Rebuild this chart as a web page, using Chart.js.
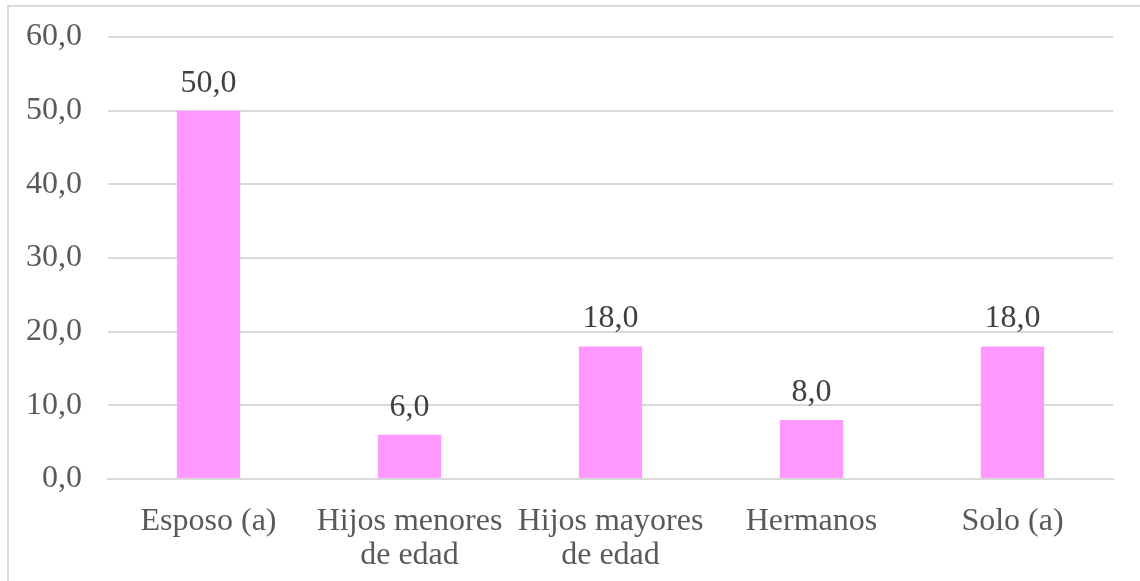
<!DOCTYPE html>
<html>
<head>
<meta charset="utf-8">
<script src="https://cdn.jsdelivr.net/npm/chart.js@4"></script>
<style>
  html, body { margin: 0; padding: 0; background: #fff; }
  #wrap { width: 1140px; height: 581px; position: relative; }
</style>
</head>
<body>
<div id="wrap"><canvas id="chart" width="1140" height="581"></canvas></div>
<script>
// Datos
const categorias = [
    'Esposo (a)',
    ['Hijos menores', 'de edad'],
    ['Hijos mayores', 'de edad'],
    'Hermanos',
    'Solo (a)'
];
const valores = [50.0, 6.0, 18.0, 8.0, 18.0];
const ticksY = [0, 10, 20, 30, 40, 50, 60];

const FUENTE = '"Liberation Serif", "Times New Roman", serif';
const GRIS = '#595959';

const fmt = v => v.toFixed(1).replace('.', ',');

// Borde del gráfico (solo arriba e izquierda visibles)
const bordePlugin = {
    id: 'borde',
    beforeDraw(chart) {
        const ctx = chart.ctx;
        ctx.save();
        ctx.fillStyle = '#fff';
        ctx.fillRect(0, 0, chart.width, chart.height);
        ctx.strokeStyle = '#d9d9d9';
        ctx.lineWidth = 2;
        ctx.beginPath();
        ctx.moveTo(8, 600);
        ctx.lineTo(8, 6);
        ctx.lineTo(1160, 6);
        ctx.stroke();
        ctx.restore();
    }
};

// Etiquetas de datos encima de las barras
const etiquetasPlugin = {
    id: 'etiquetas',
    afterDatasetsDraw(chart) {
        const ctx = chart.ctx;
        const meta = chart.getDatasetMeta(0);
        ctx.save();
        ctx.font = '32px ' + FUENTE;
        ctx.fillStyle = '#404040';
        ctx.textAlign = 'center';
        ctx.textBaseline = 'alphabetic';
        meta.data.forEach((bar, i) => {
            ctx.fillText(fmt(valores[i]), bar.x, bar.y - 19);
        });
        ctx.restore();
    }
};

new Chart(document.getElementById('chart'), {
    type: 'bar',
    data: {
        labels: categorias,
        datasets: [{
            data: valores,
            backgroundColor: '#FF99FF',
            borderWidth: 0,
            barPercentage: 0.63,
            categoryPercentage: 0.5
        }]
    },
    options: {
        responsive: false,
        animation: false,
        layout: { padding: { top: 37, right: 27, left: 0, bottom: 0 } },
        plugins: {
            legend: { display: false },
            tooltip: { enabled: false }
        },
        scales: {
            x: {
                grid: { display: false },
                border: { color: '#d9d9d9', width: 2 },
                ticks: {
                    color: GRIS,
                    font: { family: FUENTE, size: 32, lineHeight: 1.08 },
                    padding: 17,
                    maxRotation: 0,
                    autoSkip: false
                },
                afterFit(scale) {
                    scale.height = 102;
                    scale.paddingLeft = 0;
                    scale.paddingRight = 0;
                }
            },
            y: {
                min: 0,
                max: 60,
                afterBuildTicks(scale) {
                    scale.ticks = ticksY.map(v => ({ value: v }));
                },
                grid: { color: '#d9d9d9', lineWidth: 2, drawTicks: false },
                border: { display: false },
                ticks: {
                    color: GRIS,
                    font: { family: FUENTE, size: 32 },
                    padding: 26,
                    callback: v => fmt(v)
                },
                afterFit(scale) {
                    scale.width = 108;
                    scale.paddingTop = 0;
                    scale.paddingBottom = 0;
                }
            }
        }
    },
    plugins: [bordePlugin, etiquetasPlugin]
});
</script>
</body>
</html>
